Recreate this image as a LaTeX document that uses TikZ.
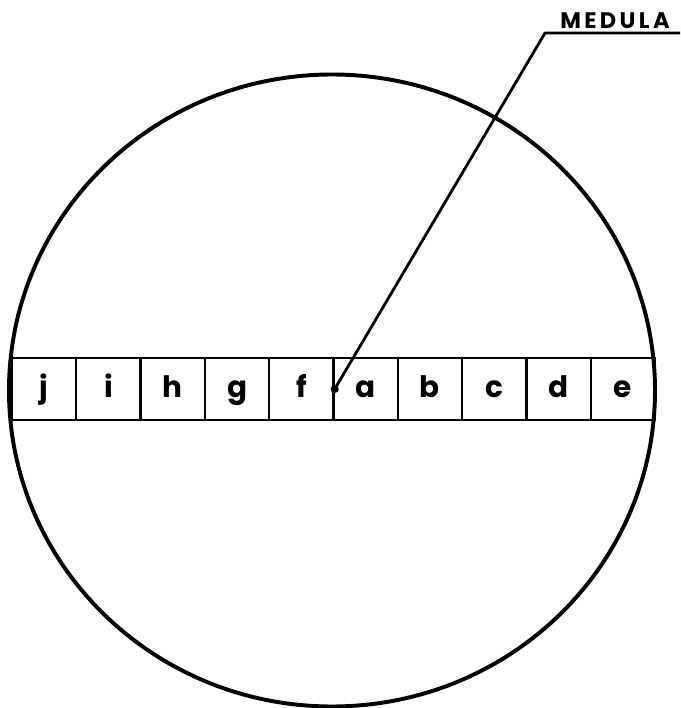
\documentclass[tikz,border=0pt]{standalone}
\usepackage{fontspec}
\setsansfont{Poppins}
\newfontfamily\labelfont[LetterSpace=15]{Poppins}
\usetikzlibrary{positioning}
\tikzset{
  cell/.style={draw,line width=1.7pt,minimum width=1.6075cm,minimum height=1.55cm,inner sep=0pt,
    text height=0.6cm,text depth=0.2cm,font=\sffamily\bfseries\fontsize{21}{21}\selectfont},
  rim/.style={line width=2.8pt},
  leader/.style={line width=2pt},
}

\begin{document}
\begin{tikzpicture}
  \useasboundingbox (-8.3,-7.9375) rectangle (8.7,9.7625);
  \draw[rim] (0,0) ellipse [x radius=8.075, y radius=7.9];
  % strip of cells across the section
  \def\w{1.6075}
  \foreach \l [count=\i from 0] in {j,i,h,g,f,a,b,c,d,e}{
    \node[cell] (cell-\l) at (-8.0+\w/2+\i*\w,0.035) {\l};
  }
  % pith and its label
  \coordinate (pith) at (cell-f.east);
  \fill (pith) circle (0.1);
  \coordinate (bend) at (5.325,8.9375);
  \coordinate (tail) at (8.7,8.9375);
  \draw[leader,line join=round] (pith) -- (bend) -- (tail);
  \node[font=\labelfont\bfseries\fontsize{16}{16}\selectfont,anchor=base,inner sep=0pt] (medula) at (7.075,9.06) {MEDULA};
\end{tikzpicture}
\end{document}
